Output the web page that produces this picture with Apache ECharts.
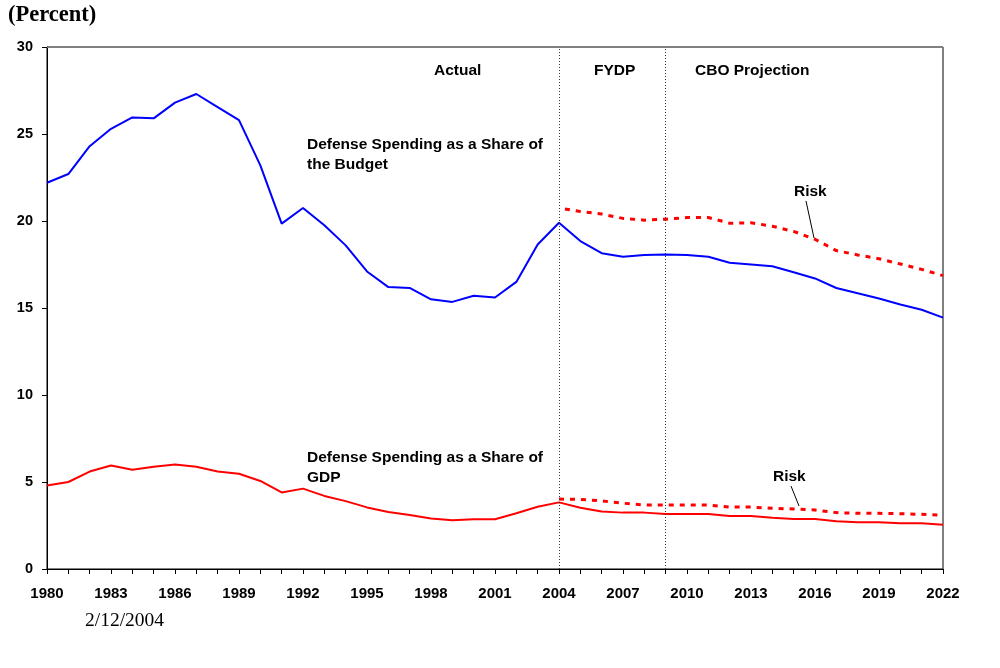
<!DOCTYPE html>
<html>
<head>
<meta charset="utf-8">
<script src="https://cdn.jsdelivr.net/npm/echarts@6/dist/echarts.min.js"></script>
<style>html,body{margin:0;padding:0;background:#fff}#c{width:1000px;height:668px}</style>
</head>
<body>
<div id="c"></div>
<script>
const years = [];
for (let y = 1980; y <= 2022; y++) years.push(y);

const budgetShare = [22.2,22.7,24.3,25.3,25.95,25.9,26.8,27.3,26.55,25.8,23.2,19.85,20.75,19.75,18.6,17.1,16.2,16.15,15.5,15.35,15.7,15.6,16.5,18.65,19.9,18.85,18.15,17.95,18.05,18.08,18.05,17.95,17.6,17.5,17.4,17.05,16.7,16.15,15.85,15.55,15.2,14.9,14.45];
const gdpShare = [4.8,5.0,5.6,5.95,5.7,5.88,6.0,5.88,5.6,5.47,5.06,4.4,4.62,4.2,3.9,3.54,3.28,3.1,2.9,2.8,2.86,2.86,3.2,3.58,3.83,3.52,3.3,3.24,3.24,3.16,3.16,3.16,3.05,3.05,2.94,2.87,2.87,2.74,2.68,2.68,2.63,2.63,2.55];
const riskYears = [2004,2005,2006,2007,2008,2009,2010,2011,2012,2013,2014,2015,2016,2017,2018,2019,2020,2021,2022];
const budgetRisk = [20.75,20.55,20.4,20.15,20.05,20.1,20.2,20.2,19.87,19.9,19.7,19.4,18.95,18.3,18.05,17.83,17.53,17.22,16.86];
const gdpRisk = [4.02,4.0,3.91,3.78,3.68,3.68,3.68,3.68,3.56,3.56,3.49,3.45,3.39,3.24,3.2,3.2,3.18,3.14,3.1];
const phaseLines = [2004, 2009];

const chart = echarts.init(document.getElementById('c'), null, {renderer: 'canvas'});
const pair = (xs, ys) => xs.map((x, i) => [x, ys[i]]);
const sans = 'Liberation Sans';
const serif = 'Liberation Serif';
const txt = (x, y, s, size, fam, weight) => ({type: 'text', left: x, top: y,
  style: {text: s, fontFamily: fam, fontSize: size, fontWeight: weight || 'bold', fill: '#000'}});

chart.setOption({
  animation: false,
  backgroundColor: '#fff',
  grid: {left: 47, right: 57, top: 47, bottom: 99, show: true, borderColor: '#000', borderWidth: 1},
  xAxis: {
    type: 'value', min: 1980, max: 2022, interval: 1,
    axisLine: {show: true, lineStyle: {color: '#000', width: 1}},
    axisTick: {show: true, inside: false, length: 5, lineStyle: {color: '#000'}},
    axisLabel: {
      fontFamily: sans, fontWeight: 'bold', fontSize: 15, color: '#000', margin: 17,
      formatter: v => ((v - 1980) % 3 === 0 ? String(v) : ''),
      showMinLabel: true, showMaxLabel: true, hideOverlap: false
    },
    splitLine: {show: false}
  },
  yAxis: {
    type: 'value', min: 0, max: 30, interval: 5,
    axisLine: {show: true, lineStyle: {color: '#000', width: 1}},
    axisTick: {show: true, length: 5, lineStyle: {color: '#000'}},
    axisLabel: {fontFamily: sans, fontWeight: 'bold', fontSize: 14.5, color: '#000', margin: 14},
    splitLine: {show: false}
  },
  series: [
    {type: 'line', data: pair(years, budgetShare), symbol: 'none', lineStyle: {color: '#0000ff', width: 2}, z: 3,
     markLine: {silent: true, symbol: 'none', label: {show: false},
       lineStyle: {color: '#333', type: [1, 2], width: 1},
       data: phaseLines.map(v => ({xAxis: v}))}},
    {type: 'line', data: pair(years, gdpShare), symbol: 'none', lineStyle: {color: '#ff0000', width: 2}, z: 3},
    {type: 'line', data: pair(riskYears, budgetRisk), symbol: 'none', lineStyle: {color: '#ff0000', width: 3, type: [5, 6], dashOffset: 5}, z: 2},
    {type: 'line', data: pair(riskYears, gdpRisk), symbol: 'none', lineStyle: {color: '#ff0000', width: 3, type: [5, 6]}, z: 2},
    {type: 'line', data: [], markLine: {silent: true, symbol: 'none', label: {show: false},
      lineStyle: {color: '#808080', type: 'solid', width: 1}, data: [{yAxis: 30}]}}
  ],
  graphic: [
    txt(8, 4, '(Percent)', 22.5, serif),
    txt(434, 63, 'Actual', 15.5, sans),
    txt(594, 63, 'FYDP', 15.5, sans),
    txt(695, 63, 'CBO Projection', 15.5, sans),
    txt(307, 137, 'Defense Spending as a Share of', 15.5, sans),
    txt(307, 157, 'the Budget', 15.5, sans),
    txt(307, 450, 'Defense Spending as a Share of', 15.5, sans),
    txt(307, 470, 'GDP', 15.5, sans),
    txt(794, 184, 'Risk', 15.5, sans),
    txt(773, 469, 'Risk', 15.5, sans),
    {type: 'line', shape: {x1: 806, y1: 201, x2: 814, y2: 238}, style: {stroke: '#000', lineWidth: 1}},
    {type: 'line', shape: {x1: 791, y1: 486, x2: 799, y2: 506}, style: {stroke: '#000', lineWidth: 1}},
    txt(85, 611, '2/12/2004', 19.5, serif, 'normal')
  ]
});
</script>
</body>
</html>
